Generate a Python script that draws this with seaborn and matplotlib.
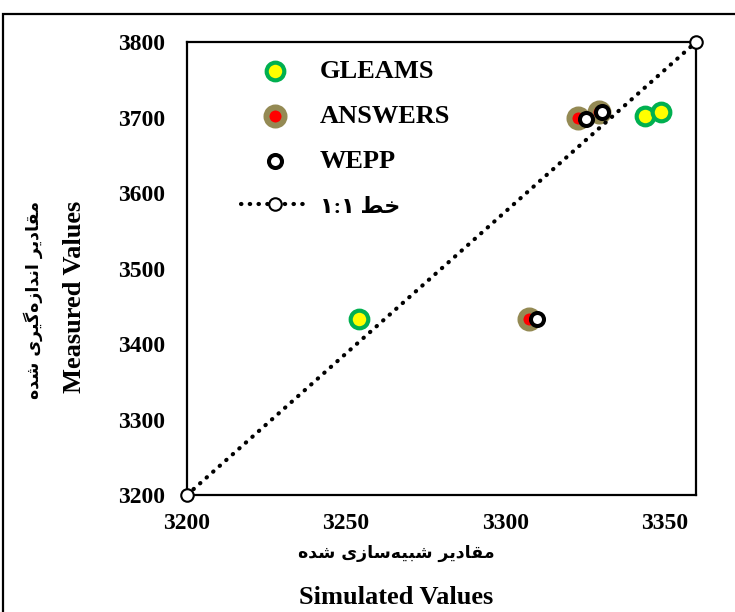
import matplotlib
matplotlib.use("Agg")
import matplotlib.pyplot as plt
import seaborn as sns
from matplotlib.patches import Rectangle

# Simulated (x) vs measured (y) values
gleams_sim = [3254, 3344, 3349]
gleams_obs = [3433, 3702, 3708]
answers_sim = [3307.5, 3323, 3329.5]
answers_obs = [3433, 3700, 3708]
wepp_sim = [3310, 3325.5, 3330.5]
wepp_obs = [3433, 3698, 3707]
line_x = [3200, 3360]
line_y = [3200, 3800]

x_ticks = [3200, 3250, 3300, 3350]
y_ticks = [3200, 3300, 3400, 3500, 3600, 3700, 3800]

x_label_fa = "مقادیر شبیه‌سازی شده"
y_label_fa = "مقادیر اندازه‌گیری شده"
line_label_fa = "خط ۱:۱"

# matplotlib does no Arabic shaping, so pick presentation forms by hand
# (isolated, final, initial, medial); None = letter does not join forward
FORMS = {
    "\u0627": ("\ufe8d", "\ufe8e", None, None),
    "\u0628": ("\ufe8f", "\ufe90", "\ufe91", "\ufe92"),
    "\u062e": ("\ufea5", "\ufea6", "\ufea7", "\ufea8"),
    "\u062f": ("\ufea9", "\ufeaa", None, None),
    "\u0631": ("\ufead", "\ufeae", None, None),
    "\u0632": ("\ufeaf", "\ufeb0", None, None),
    "\u0633": ("\ufeb1", "\ufeb2", "\ufeb3", "\ufeb4"),
    "\u0634": ("\ufeb5", "\ufeb6", "\ufeb7", "\ufeb8"),
    "\u0637": ("\ufec1", "\ufec2", "\ufec3", "\ufec4"),
    "\u0642": ("\ufed5", "\ufed6", "\ufed7", "\ufed8"),
    "\u0645": ("\ufee1", "\ufee2", "\ufee3", "\ufee4"),
    "\u0646": ("\ufee5", "\ufee6", "\ufee7", "\ufee8"),
    "\u0647": ("\ufee9", "\ufeea", "\ufeeb", "\ufeec"),
    "\u064a": ("\ufef1", "\ufef2", "\ufef3", "\ufef4"),
    "\u06cc": ("\ufbfc", "\ufbfd", "\ufbfe", "\ufbff"),
    "\u06af": ("\ufb92", "\ufb93", "\ufb94", "\ufb95"),
}


def shape_fa(text):
    out = []
    for i, c in enumerate(text):
        if c not in FORMS:
            out.append(c)
            continue
        prev = text[i - 1] if i > 0 else ""
        nxt = text[i + 1] if i + 1 < len(text) else ""
        iso, fin, ini, med = FORMS[c]
        joins_prev = prev in FORMS and FORMS[prev][2] is not None
        joins_next = nxt in FORMS and ini is not None
        if joins_prev and joins_next:
            out.append(med)
        elif joins_prev:
            out.append(fin)
        elif joins_next:
            out.append(ini)
        else:
            out.append(iso)
    return "".join(out).replace("\u200c", "")[::-1]


sns.set_style("white")
plt.rcParams["font.family"] = ["Liberation Serif", "DejaVu Sans"]
plt.rcParams["text.color"] = "black"
plt.rcParams["xtick.color"] = "black"
plt.rcParams["ytick.color"] = "black"

fig = plt.figure(figsize=(7.35, 6.12), dpi=100)
ax = fig.add_axes([0.2544, 0.1912, 0.6925, 0.740])

sns.scatterplot(x=gleams_sim, y=gleams_obs, ax=ax, s=161, color="#ffff00",
                edgecolor="#00b050", linewidth=3, label="GLEAMS", zorder=3)
sns.scatterplot(x=answers_sim, y=answers_obs, ax=ax, s=169, color="#ff0000",
                edgecolor="#948a54", linewidth=4.3, label="ANSWERS", zorder=3)
sns.scatterplot(x=wepp_sim, y=wepp_obs, ax=ax, s=88, color="white",
                edgecolor="black", linewidth=2.9, label="WEPP", zorder=5)
sns.lineplot(x=line_x, y=line_y, ax=ax, color="black", linewidth=3,
             linestyle=(0, (0.1, 2)), dash_capstyle="round", marker="o",
             markersize=9, markerfacecolor="white", markeredgecolor="black",
             markeredgewidth=1.5, clip_on=False, zorder=4,
             label=shape_fa(line_label_fa))

ax.set_xlim(3200, 3360)
ax.set_ylim(3200, 3800)
ax.set_xticks(x_ticks)
ax.set_yticks(y_ticks)
ax.tick_params(length=0, labelsize=17, pad=13)
ax.tick_params(axis="y", pad=16)
for lab in ax.get_xticklabels() + ax.get_yticklabels():
    lab.set_fontweight("bold")
for sp in ax.spines.values():
    sp.set_visible(True)
    sp.set_color("black")
    sp.set_linewidth(1.6)
ax.set_xlabel("")
ax.set_ylabel("")

leg = ax.legend(loc="upper left", bbox_to_anchor=(0.106, 0.962), frameon=False,
                borderpad=0, borderaxespad=0, handlelength=2.55,
                handletextpad=0.45, labelspacing=0.82,
                prop={"weight": "bold", "size": 19})
leg.get_texts()[3].set_fontsize(16)

fig.text(0.539, 0.096, shape_fa(x_label_fa), ha="center", va="center",
         fontsize=12.5, fontweight="bold", family=["DejaVu Sans"])
fig.text(0.539, 0.023, "Simulated Values", ha="center", va="center",
         fontsize=19, fontweight="bold")
fig.text(0.045, 0.51, shape_fa(y_label_fa), ha="center", va="center",
         rotation=90, fontsize=12.5, fontweight="bold", family=["DejaVu Sans"])
fig.text(0.102, 0.515, "Measured Values", ha="center", va="center",
         rotation=90, fontsize=19, fontweight="bold")

# outer chart frame, cut by the image edge on the right and bottom
fig.add_artist(Rectangle((0.004, -0.05), 1.1, 1.027, transform=fig.transFigure,
                         fill=False, edgecolor="black", linewidth=1.6))

fig.savefig("out.png", dpi=100)
